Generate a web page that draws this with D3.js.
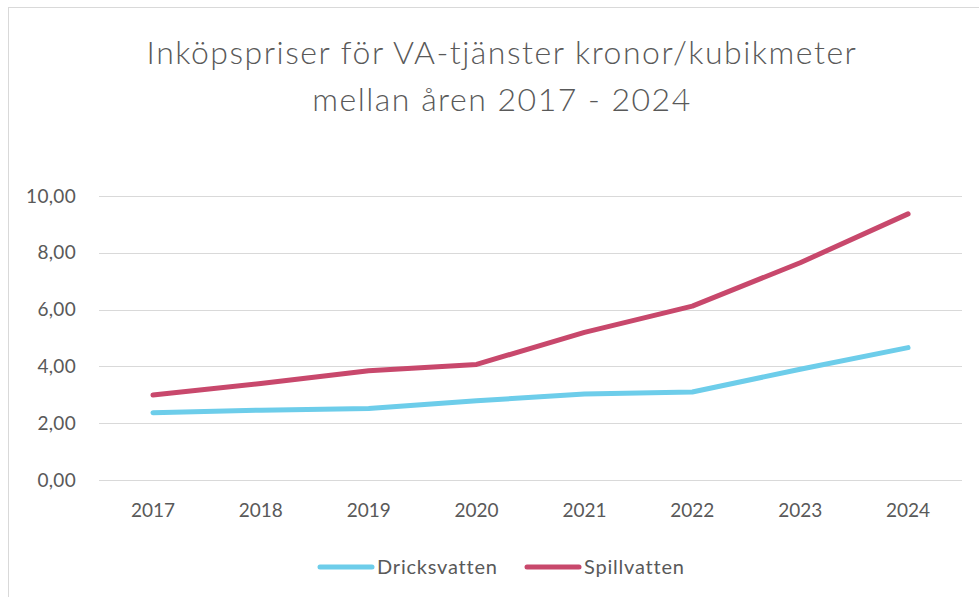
<!DOCTYPE html>
<html>
<head>
<meta charset="utf-8">
<script src="https://cdn.jsdelivr.net/npm/d3@7"></script>
<style>
  body { margin: 0; background: #fff; }
  text { font-family: Lato, "Open Sans", sans-serif; fill: #595959; }
</style>
</head>
<body>
<svg id="chart" width="979" height="597"></svg>
<script>
// data
const years = ["2017", "2018", "2019", "2020", "2021", "2022", "2023", "2024"];
const dricksvatten = [2.37, 2.46, 2.52, 2.79, 3.03, 3.10, 3.90, 4.66];
const spillvatten = [2.99, 3.40, 3.85, 4.07, 5.20, 6.12, 7.65, 9.37];
const yTicks = [0, 2, 4, 6, 8, 10];
const titleLines = ["Inköpspriser för VA-tjänster kronor/kubikmeter", "mellan åren 2017 - 2024"];

const series = [
  { name: "Dricksvatten", values: dricksvatten, color: "#6dcdea" },
  { name: "Spillvatten", values: spillvatten, color: "#c8486c" }
];

const svg = d3.select("#chart");

// chart frame
svg.append("rect")
  .attr("x", 8.5).attr("y", 7.5)
  .attr("width", 1000).attr("height", 700)
  .attr("fill", "none")
  .attr("stroke", "#d9d9d9");

// title
svg.selectAll(".title")
  .data(titleLines)
  .enter().append("text")
  .attr("class", "title")
  .attr("x", 502)
  .attr("y", (d, i) => 64 + i * 47)
  .attr("text-anchor", "middle")
  .style("font-size", "32px")
  .style("font-weight", 300)
  .style("letter-spacing", "1.5px")
  .text(d => d);

const x = d3.scaleBand().domain(years).range([99, 962]);
const y = d3.scaleLinear().domain([0, 10]).range([480, 196]);

// gridlines
svg.append("g")
  .selectAll("line")
  .data(yTicks)
  .enter().append("line")
  .attr("x1", 99).attr("x2", 962)
  .attr("y1", d => Math.round(y(d)) + 0.5)
  .attr("y2", d => Math.round(y(d)) + 0.5)
  .attr("stroke", "#d9d9d9")
  .attr("stroke-width", 1);

// y labels
svg.append("g")
  .selectAll("text")
  .data(yTicks)
  .enter().append("text")
  .attr("x", 76)
  .attr("y", d => y(d) + 6.5)
  .attr("text-anchor", "end")
  .style("font-size", "19px")
  .style("letter-spacing", "0.3px")
  .text(d => d3.format(".2f")(d).replace(".", ","));

// x labels
svg.append("g")
  .selectAll("text")
  .data(years)
  .enter().append("text")
  .attr("x", d => x(d) + x.bandwidth() / 2)
  .attr("y", 517)
  .attr("text-anchor", "middle")
  .style("font-size", "19px")
  .text(d => d);

// lines
const line = d3.line()
  .x((d, i) => x(years[i]) + x.bandwidth() / 2)
  .y(d => y(d));

svg.append("g")
  .selectAll("path")
  .data(series)
  .enter().append("path")
  .attr("d", d => line(d.values))
  .attr("fill", "none")
  .attr("stroke", d => d.color)
  .attr("stroke-width", 5)
  .attr("stroke-linecap", "round")
  .attr("stroke-linejoin", "round");

// legend
const legendX = [318, 525];
const legend = svg.append("g")
  .selectAll("g")
  .data(series)
  .enter().append("g")
  .attr("transform", (d, i) => `translate(${legendX[i]},567)`);

legend.append("line")
  .attr("x1", 2).attr("x2", 54)
  .attr("y1", 0).attr("y2", 0)
  .attr("stroke", d => d.color)
  .attr("stroke-width", 5)
  .attr("stroke-linecap", "round");

legend.append("text")
  .attr("x", 59)
  .attr("y", 7)
  .style("font-size", "20px")
  .style("letter-spacing", "0.8px")
  .text(d => d.name);
</script>
</body>
</html>
